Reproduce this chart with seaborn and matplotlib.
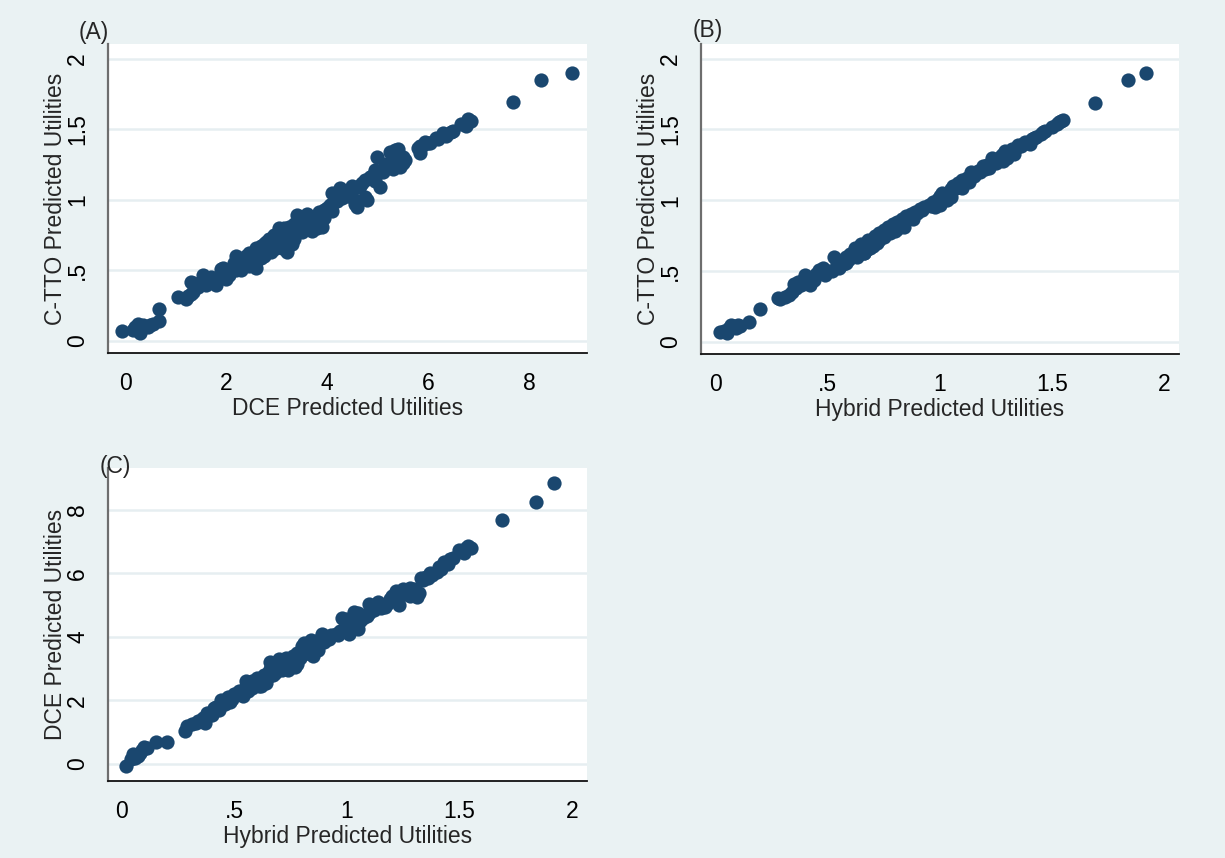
import matplotlib
matplotlib.use("Agg")
import matplotlib.pyplot as plt
import seaborn as sns
import pandas as pd

# ---- data: predicted utilities per health state ----
hybrid = [0.02, 0.04, 0.05, 0.06, 0.07, 0.08, 0.09, 0.10, 0.11, 0.15, 0.20,
          0.28, 0.29, 0.31, 0.33, 0.34, 0.35, 0.36, 0.37, 0.38, 0.39, 0.40, 0.41, 0.42,
          0.43, 0.44, 0.45, 0.46, 0.47, 0.48, 0.49, 0.50, 0.52, 0.53, 0.54,
          0.55, 0.56, 0.57, 0.58, 0.58, 0.59, 0.60, 0.60, 0.61, 0.62, 0.62, 0.63, 0.63,
          0.64, 0.64, 0.65, 0.65, 0.66, 0.66, 0.67, 0.67, 0.68, 0.68, 0.69, 0.69, 0.70,
          0.70, 0.71, 0.71, 0.72, 0.72, 0.73, 0.73, 0.74, 0.75, 0.75, 0.76, 0.77, 0.78,
          0.78, 0.79, 0.80, 0.80, 0.81, 0.81,
          0.82, 0.83, 0.84, 0.85, 0.85, 0.86, 0.87, 0.88, 0.89, 0.90, 0.91, 0.92, 0.93,
          0.95, 0.96, 0.97, 0.98, 0.99, 1.00, 1.00, 1.01, 1.02,
          1.03, 1.04, 1.05, 1.05, 1.06, 1.07, 1.08, 1.09, 1.10, 1.10, 1.12, 1.13, 1.14,
          1.15, 1.16, 1.17, 1.18, 1.19, 1.20, 1.21, 1.22, 1.23, 1.24, 1.25, 1.26, 1.27,
          1.28, 1.28, 1.29, 1.30, 1.31, 1.32,
          1.33, 1.34, 1.35, 1.36, 1.37, 1.38, 1.40, 1.41, 1.42, 1.43, 1.45, 1.46, 1.47,
          1.50, 1.52, 1.53, 1.54, 1.55,
          1.69, 1.84, 1.92,
          0.62, 0.55, 0.74, 0.66, 0.70, 0.77]

ctto = [0.07, 0.08, 0.06, 0.10, 0.12, 0.11, 0.10, 0.12, 0.11, 0.14, 0.23,
        0.31, 0.30, 0.32, 0.33, 0.35, 0.41, 0.38, 0.42, 0.40, 0.44, 0.47, 0.42, 0.40,
        0.45, 0.44, 0.48, 0.51, 0.50, 0.52, 0.47, 0.50, 0.50, 0.60, 0.55,
        0.53, 0.57, 0.55, 0.60, 0.56, 0.58, 0.62, 0.59, 0.61, 0.63, 0.66, 0.60, 0.64,
        0.67, 0.62, 0.65, 0.69, 0.63, 0.67, 0.70, 0.65, 0.68, 0.72, 0.66, 0.70, 0.73,
        0.68, 0.71, 0.75, 0.70, 0.74, 0.77, 0.72, 0.76, 0.79, 0.74, 0.78, 0.81, 0.80,
        0.77, 0.83, 0.78, 0.82, 0.85, 0.80,
        0.84, 0.87, 0.81, 0.86, 0.89, 0.88, 0.90, 0.87, 0.92, 0.91, 0.94, 0.93, 0.95,
        0.97, 0.96, 0.99, 0.95, 1.01, 1.03, 0.97, 1.05, 1.02,
        1.00, 1.06, 1.08, 1.02, 1.10, 1.09, 1.12, 1.10, 1.14, 1.09, 1.16, 1.13, 1.20,
        1.17, 1.19, 1.21, 1.20, 1.24, 1.22, 1.25, 1.23, 1.30, 1.27, 1.26, 1.29, 1.31,
        1.33, 1.28, 1.35, 1.30, 1.34, 1.36,
        1.33, 1.37, 1.39, 1.38, 1.40, 1.41, 1.40, 1.43, 1.44, 1.45, 1.47, 1.48, 1.49,
        1.52, 1.54, 1.55, 1.56, 1.57,
        1.69, 1.85, 1.90,
        0.62, 0.52, 0.74, 0.63, 0.69, 0.80]

dce = [-0.05, 0.15, 0.30, 0.20, 0.25, 0.35, 0.45, 0.55, 0.50, 0.68, 0.68,
       1.05, 1.20, 1.25, 1.30, 1.35, 1.35, 1.45, 1.30, 1.60, 1.55, 1.55, 1.75, 1.80,
       1.70, 2.00, 1.90, 1.90, 2.10, 1.95, 2.05, 2.20, 2.30, 2.20, 2.15,
       2.45, 2.30, 2.55, 2.40, 2.60, 2.50, 2.55, 2.70, 2.45, 2.65, 2.60, 2.75, 2.80,
       2.70, 2.55, 2.85, 2.75, 2.90, 3.00, 2.80, 2.95, 3.05, 2.85, 3.10, 2.95, 3.00,
       3.20, 3.10, 2.95, 3.25, 3.05, 3.15, 3.35, 3.20, 3.10, 3.30, 3.40, 3.25, 3.15,
       3.50, 3.35, 3.70, 3.60, 3.45, 3.80,
       3.75, 3.55, 3.90, 3.65, 3.40, 3.80, 3.60, 3.95, 4.10, 3.85, 4.00, 3.95, 4.05,
       4.10, 4.05, 4.20, 4.60, 4.30, 4.40, 4.55, 4.10, 4.50,
       4.80, 4.40, 4.25, 4.75, 4.50, 4.60, 4.70, 4.65, 4.75, 5.05, 4.85, 4.95, 5.10,
       4.90, 5.00, 4.95, 5.05, 5.20, 5.30, 5.15, 5.45, 5.00, 5.40, 5.50, 5.35, 5.45,
       5.30, 5.55, 5.35, 5.50, 5.25, 5.40,
       5.85, 5.80, 5.90, 5.85, 6.00, 5.95, 6.05, 6.20, 6.15, 6.35, 6.30, 6.45, 6.50,
       6.75, 6.65, 6.80, 6.85, 6.80,
       7.68, 8.24, 8.85,
       2.45, 2.60, 2.95, 3.20, 3.30, 3.05]

panel_tags = ["(A)", "(B)", "(C)"]
label_dce = "DCE Predicted Utilities"
label_hybrid = "Hybrid Predicted Utilities"
label_ctto = "C-TTO Predicted Utilities"
ticks_util = [0, 0.5, 1, 1.5, 2]
ticklabels_util = ["0", ".5", "1", "1.5", "2"]
ticks_dce = [0, 2, 4, 6, 8]
ticklabels_dce = ["0", "2", "4", "6", "8"]

df = pd.DataFrame({"hybrid": hybrid, "ctto": ctto, "dce": dce})

# ---- style ----
sns.set_style("white")
plt.rcParams["font.family"] = ["Liberation Sans", "DejaVu Sans"]
BG = "#EAF2F3"
GRID = "#E6EEF1"
MARK = "#1A476F"
FS = 16.5

W, H = 1225, 858
fig = plt.figure(figsize=(W / 100, H / 100), dpi=100, facecolor=BG)


def px_axes(left, top, right, bottom):
    return fig.add_axes([left / W, 1 - bottom / H, (right - left) / W, (bottom - top) / H])


axA = px_axes(108, 44, 587, 353)
axB = px_axes(701, 44, 1179, 354)
axC = px_axes(108, 468, 587, 781)

specs = [
    (axA, "dce", "ctto", label_dce, label_ctto, ticks_dce, ticklabels_dce, ticks_util, ticklabels_util,
     (-0.337, 9.15), (-0.085, 2.103)),
    (axB, "hybrid", "ctto", label_hybrid, label_ctto, ticks_util, ticklabels_util, ticks_util, ticklabels_util,
     (-0.064, 2.065), (-0.085, 2.103)),
    (axC, "hybrid", "dce", label_hybrid, label_dce, ticks_util, ticklabels_util, ticks_dce, ticklabels_dce,
     (-0.062, 2.067), (-0.535, 9.32)),
]

for ax, xc, yc, xl, yl, xt, xtl, yt, ytl, xlim, ylim in specs:
    ax.set_facecolor("white")
    ax.set_axisbelow(True)
    for y in yt:
        ax.axhline(y, color=GRID, lw=1.8, zorder=0)
    sns.scatterplot(data=df, x=xc, y=yc, ax=ax, color=MARK, s=105, linewidth=0,
                    alpha=1, legend=False, zorder=3)
    ax.set_xlim(*xlim)
    ax.set_ylim(*ylim)
    ax.set_xticks(xt)
    ax.set_xticklabels(xtl)
    ax.set_yticks(yt)
    ax.set_yticklabels(ytl, rotation=90, va="center")
    ax.tick_params(axis="x", length=9, width=1, color="#333333", pad=5, labelsize=FS, labelcolor="black")
    ax.tick_params(axis="y", length=9, width=1, color="#333333", pad=4.5, labelsize=FS, labelcolor="black")
    ax.set_xlabel(xl, fontsize=FS, labelpad=1)
    ax.set_ylabel(yl, fontsize=FS)
    ax.yaxis.set_label_coords(-0.0856, 0.5)
    ax.spines["top"].set_visible(False)
    ax.spines["right"].set_visible(False)
    ax.spines["left"].set_color("#6E6E6E")
    ax.spines["left"].set_linewidth(1.6)
    ax.spines["bottom"].set_color("#111111")
    ax.spines["bottom"].set_linewidth(1.3)
    ax.grid(False)

# panel tags
for tag, (x, y) in zip(panel_tags, [(79, 32), (693, 30), (100, 466)]):
    fig.text(x / W, 1 - y / H, tag, fontsize=FS, ha="left", va="center")

fig.savefig("out.png", dpi=100, facecolor=BG)
